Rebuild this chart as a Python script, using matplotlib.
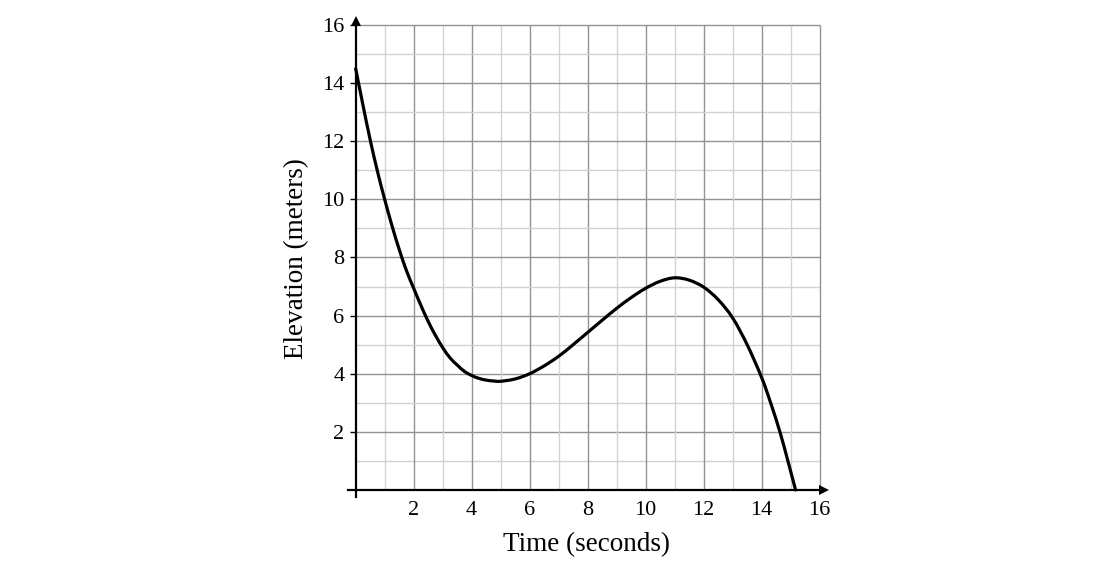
import matplotlib
matplotlib.use("Agg")
import matplotlib.pyplot as plt
from matplotlib.path import Path
from matplotlib.patches import PathPatch

# Data
time_s = [0.0, 0.25, 0.5, 0.75, 1.0, 1.25, 1.5, 1.75, 2.0, 2.25, 2.5, 2.75, 3.0,
          3.25, 3.5, 3.75, 4.0, 4.25, 4.5, 4.75, 5.0, 5.5, 6.0, 6.5, 7.0, 7.5,
          8.0, 8.5, 9.0, 9.5, 10.0, 10.5, 11.0, 11.5, 12.0, 12.5, 13.0, 13.5,
          14.0, 14.31, 14.63, 14.9, 15.17]
elevation_m = [14.5, 13.25, 12.05, 10.97, 10.0, 9.1, 8.28, 7.55, 6.94, 6.35, 5.8, 5.32, 4.9,
               4.55, 4.3, 4.08, 3.94, 3.84, 3.78, 3.75, 3.74, 3.82, 4.0, 4.27, 4.6, 5.0,
               5.42, 5.84, 6.25, 6.62, 6.94, 7.18, 7.3, 7.22, 6.98, 6.55, 5.92, 5.0,
               3.87, 3.0, 2.0, 1.02, 0.0]
x_ticks = [2, 4, 6, 8, 10, 12, 14, 16]
y_ticks = [2, 4, 6, 8, 10, 12, 14, 16]
x_label = "Time (seconds)"
y_label = "Elevation (meters)"

plt.rcParams['font.family'] = ['Liberation Serif', 'DejaVu Serif']

fig = plt.figure(figsize=(10.93, 5.66), dpi=100)
ax = fig.add_axes([0.3148, 0.1138, 0.4457, 0.8626])
ax.set_xlim(-0.4, 16.4)
ax.set_ylim(-0.4, 16.4)

# grid: minor (odd) lighter, major (even) darker
for v in range(1, 17):
    col = '#939393' if v % 2 == 0 else '#d2d2d2'
    ax.plot([v, v], [0, 16], color=col, lw=1.0, zorder=1, solid_capstyle='butt')
    ax.plot([0, 16], [v, v], color=col, lw=1.0, zorder=1, solid_capstyle='butt')

# smooth curve through the read points (Catmull-Rom drawn as Bezier path)
pts = list(zip(time_s, elevation_m))
verts = [pts[0]]
codes = [Path.MOVETO]
n = len(pts)
for i in range(n - 1):
    p0 = pts[i - 1] if i > 0 else pts[i]
    p1 = pts[i]
    p2 = pts[i + 1]
    p3 = pts[i + 2] if i + 2 < n else pts[i + 1]
    c1 = (p1[0] + (p2[0] - p0[0]) / 6.0, p1[1] + (p2[1] - p0[1]) / 6.0)
    c2 = (p2[0] - (p3[0] - p1[0]) / 6.0, p2[1] - (p3[1] - p1[1]) / 6.0)
    verts += [c1, c2, p2]
    codes += [Path.CURVE4, Path.CURVE4, Path.CURVE4]
ax.add_patch(PathPatch(Path(verts, codes), facecolor='none', edgecolor='black',
                       lw=2.3, zorder=3, capstyle='round', joinstyle='round'))

for s in ['top', 'right']:
    ax.spines[s].set_visible(False)
ax.spines['left'].set_position(('data', 0))
ax.spines['bottom'].set_position(('data', 0))
ax.spines['left'].set_bounds(-0.25, 16.1)
ax.spines['bottom'].set_bounds(-0.25, 16.1)
for s in ['left', 'bottom']:
    ax.spines[s].set_linewidth(1.6)
    ax.spines[s].set_zorder(4)

ax.plot([0], [16.15], marker='^', color='black', ms=7, clip_on=False, zorder=5, mew=0)
ax.plot([16.15], [0], marker='>', color='black', ms=7, clip_on=False, zorder=5, mew=0)

ax.set_xticks(x_ticks)
ax.set_yticks(y_ticks)
ax.set_xticklabels([str(t) for t in x_ticks])
ax.set_yticklabels([str(t) for t in y_ticks])
ax.tick_params(axis='y', direction='out', length=4, width=1.0, pad=4, labelsize=16)
ax.tick_params(axis='x', length=0, pad=8, labelsize=16)

fig.text(0.537, 0.038, x_label, ha='center', va='center', fontsize=19.5)
fig.text(0.271, 0.544, y_label, ha='center', va='center', rotation=90, fontsize=19.5)

fig.savefig('out.png', dpi=100)
